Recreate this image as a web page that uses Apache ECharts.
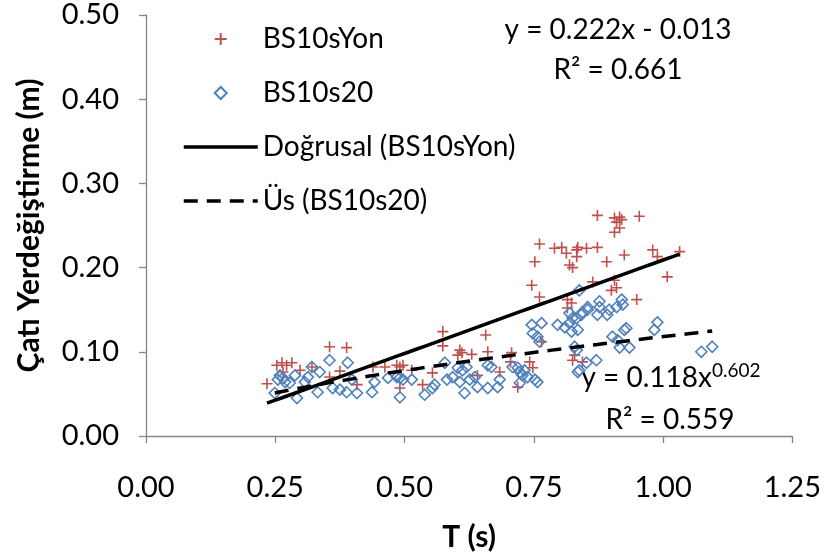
<!DOCTYPE html>
<html>
<head>
<meta charset="utf-8">
<script src="https://cdn.jsdelivr.net/npm/echarts@6/dist/echarts.min.js"></script>
<style>html,body{margin:0;padding:0;background:#fff;}#c{width:824px;height:557px;}</style>
</head>
<body>
<div id="c"></div>
<script>
// ---- data (T in s, roof displacement in m) ----
const redT = [0.234,0.253,0.263,0.272,0.282,0.265,0.355,0.388,0.298,0.321,0.375,0.355,0.408,0.439,0.462,0.485,0.491,0.497,0.514,0.491,0.535,
  0.574,0.574,0.657,0.607,0.611,0.603,0.630,0.661,0.707,0.554,0.684,0.742,0.748,0.641,0.719,0.825,0.844,0.765,0.705,0.829,
  0.873,0.906,0.916,0.910,0.920,0.906,0.916,0.954,0.761,0.790,0.804,0.813,0.833,0.835,0.852,0.873,0.833,0.752,0.819,0.825,
  0.891,0.925,0.980,0.989,1.032,1.008,0.746,0.761,0.864,0.906,0.900,0.910,0.815,0.823,0.949,0.815];
const redV = [0.062,0.084,0.087,0.084,0.087,0.076,0.106,0.105,0.078,0.082,0.077,0.070,0.061,0.082,0.082,0.084,0.082,0.084,0.078,0.057,0.061,
  0.124,0.107,0.120,0.102,0.099,0.096,0.097,0.100,0.099,0.075,0.076,0.088,0.081,0.072,0.058,0.090,0.088,0.112,0.088,0.096,
  0.262,0.259,0.260,0.254,0.257,0.242,0.247,0.261,0.228,0.223,0.224,0.217,0.221,0.224,0.223,0.224,0.213,0.207,0.203,0.200,
  0.207,0.215,0.221,0.213,0.219,0.189,0.179,0.165,0.183,0.185,0.173,0.176,0.162,0.158,0.162,0.152];
const blueT = [0.259,0.265,0.269,0.255,0.249,0.278,0.292,0.307,0.321,0.313,0.336,0.355,0.390,0.332,0.361,0.375,0.388,0.408,0.437,0.442,
  0.468,0.485,0.491,0.497,0.491,0.514,0.539,0.288,0.398,
  0.558,0.554,0.578,0.582,0.593,0.603,0.612,0.620,0.607,0.626,0.636,0.616,0.641,0.661,0.661,0.668,0.680,0.684,0.709,0.719,
  0.723,0.728,0.738,0.752,0.723,0.757,0.732,
  0.746,0.765,0.748,0.757,0.761,0.796,0.810,0.819,0.833,0.842,0.854,0.823,0.835,0.877,0.896,0.910,0.922,0.902,0.912,0.925,
  0.935,0.916,0.829,0.833,0.852,0.871,0.838,0.835,0.838,0.854,0.844,0.920,0.873,0.892,0.819,0.825,0.929,0.989,0.983,1.074,
  1.095,0.877];
const blueV = [0.072,0.069,0.064,0.067,0.051,0.063,0.045,0.064,0.082,0.070,0.076,0.090,0.087,0.052,0.057,0.055,0.052,0.051,0.052,0.064,
  0.069,0.070,0.069,0.067,0.046,0.067,0.049,0.072,0.067,
  0.061,0.057,0.087,0.067,0.070,0.081,0.078,0.082,0.064,0.067,0.070,0.051,0.058,0.057,0.084,0.082,0.058,0.067,0.082,0.081,
  0.076,0.072,0.070,0.067,0.063,0.064,0.078,
  0.132,0.134,0.122,0.118,0.112,0.132,0.129,0.134,0.140,0.144,0.150,0.124,0.126,0.153,0.150,0.153,0.156,0.118,0.114,0.126,
  0.105,0.105,0.106,0.102,0.087,0.090,0.078,0.076,0.173,0.153,0.147,0.162,0.144,0.144,0.146,0.140,0.128,0.135,0.126,0.100,
  0.106,0.160];
const xTicks = [0, 0.25, 0.5, 0.75, 1.0, 1.25];
const yTicks = [0, 0.1, 0.2, 0.3, 0.4, 0.5];
const seriesNames = ['BS10sYon', 'BS10s20', 'Doğrusal (BS10sYon)', 'Üs (BS10s20)'];
// trendline coefficients as printed on the chart
const linA = 0.222, linB = -0.013;
const powA = 0.118, powB = 0.602;

const zip = (a, b) => a.map((v, i) => [v, b[i]]);
function trend(xs, f) {
  const lo = Math.min(...xs), hi = Math.max(...xs), n = 60, out = [];
  for (let i = 0; i <= n; i++) { const x = lo + (hi - lo) * i / n; out.push([x, f(x)]); }
  return out;
}
const FONT = 'Lato, "Open Sans", sans-serif';
const PLUS = 'path://M0,5L10,5M5,0L5,10';
const DIAMOND = 'path://M5,0L10,5L5,10L0,5Z';
const DASH = [14, 9];
const chart = echarts.init(document.getElementById('c'), null, {renderer: 'canvas'});
const axisCommon = {
  axisLine: {show: true, lineStyle: {color: '#868686', width: 1.3}},
  axisTick: {show: true, inside: false, length: 7, lineStyle: {color: '#868686', width: 1.3}},
  splitLine: {show: false},
  axisLabel: {color: '#000', fontFamily: FONT, fontSize: 29},
  nameTextStyle: {color: '#000', fontFamily: FONT, fontSize: 30, fontWeight: 'bold'}
};
chart.setOption({
  animation: false,
  backgroundColor: '#fff',
  grid: {left: 146, right: 31, top: 15, bottom: 121, containLabel: false},
  xAxis: Object.assign({}, axisCommon, {
    type: 'value', min: xTicks[0], max: xTicks[xTicks.length - 1], interval: 0.25,
    name: 'T (s)', nameLocation: 'middle', nameGap: 86,
    axisLabel: Object.assign({}, axisCommon.axisLabel, {margin: 37, formatter: v => v.toFixed(2)})
  }),
  yAxis: Object.assign({}, axisCommon, {
    type: 'value', min: yTicks[0], max: yTicks[yTicks.length - 1], interval: 0.1,
    name: 'Çatı Yerdeğiştirme (m)', nameLocation: 'middle', nameGap: 102,
    axisLabel: Object.assign({}, axisCommon.axisLabel, {margin: 27, formatter: v => v.toFixed(2)})
  }),
  legend: {
    orient: 'vertical', left: 177, top: 20, itemWidth: 74, itemHeight: 12, itemGap: 26,
    textStyle: {color: '#000', fontFamily: FONT, fontSize: 28},
    data: [
      {name: seriesNames[0], icon: PLUS},
      {name: seriesNames[1], icon: DIAMOND},
      {name: seriesNames[2], itemStyle: {opacity: 0}, lineStyle: {width: 3.5, color: '#000', type: 'solid'}},
      {name: seriesNames[3], itemStyle: {opacity: 0}, lineStyle: {width: 3.5, color: '#000', type: DASH}}
    ]
  },
  series: [
    {name: seriesNames[0], type: 'scatter', z: 2,
     symbol: PLUS, symbolSize: 11,
     itemStyle: {color: 'none', borderColor: '#C0504D', borderWidth: 1.6, opacity: 1},
     data: zip(redT, redV)},
    {name: seriesNames[1], type: 'scatter', z: 3,
     symbol: DIAMOND, symbolSize: 11,
     itemStyle: {color: 'none', borderColor: '#4F81BD', borderWidth: 1.6, opacity: 1},
     data: zip(blueT, blueV)},
    {name: seriesNames[2], type: 'line', z: 5, symbol: 'none', showSymbol: false,
     lineStyle: {color: '#000', width: 3.5, type: 'solid'}, itemStyle: {color: '#000'},
     data: trend(redT, x => linA * x + linB)},
    {name: seriesNames[3], type: 'line', z: 5, symbol: 'none', showSymbol: false,
     lineStyle: {color: '#000', width: 3.5, type: DASH}, itemStyle: {color: '#000'},
     data: trend(blueT, x => powA * Math.pow(x, powB))}
  ],
  graphic: [
    {type: 'text', x: 618, y: 30, style: {text: 'y = ' + linA.toFixed(3) + 'x - ' + Math.abs(linB).toFixed(3), font: '28px ' + FONT, fill: '#000', align: 'center', verticalAlign: 'middle'}},
    {type: 'text', x: 618, y: 70, style: {text: 'R² = 0.661', font: '28px ' + FONT, fill: '#000', align: 'center', verticalAlign: 'middle'}},
    {type: 'text', x: 671, y: 378, style: {
      text: '{a|y = ' + powA.toFixed(3) + 'x}{s|' + powB.toFixed(3) + '}', align: 'center', verticalAlign: 'middle',
      rich: {a: {fontFamily: FONT, fontSize: 28, color: '#000'},
             s: {fontFamily: FONT, fontSize: 19, color: '#000', padding: [0, 0, 14, 0]}}}},
    {type: 'text', x: 670, y: 420, style: {text: 'R² = 0.559', font: '28px ' + FONT, fill: '#000', align: 'center', verticalAlign: 'middle'}}
  ]
});
</script>
</body>
</html>
